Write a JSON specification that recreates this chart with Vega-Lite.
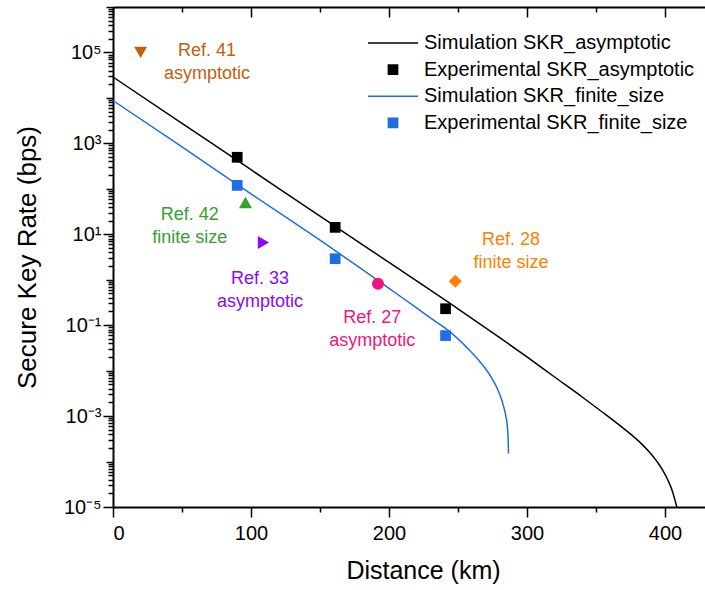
{
  "$schema": "https://vega.github.io/schema/vega-lite/v6.json",
  "autosize": "none",
  "padding": {"left": 113, "top": 7, "right": 0, "bottom": 83},
  "width": 592,
  "height": 500,
  "datasets": {
    "sim": [
      {"series": "Simulation SKR_asymptotic", "d": 0, "skr": 28840},
      {"series": "Simulation SKR_asymptotic", "d": 50, "skr": 2754},
      {"series": "Simulation SKR_asymptotic", "d": 100, "skr": 263},
      {"series": "Simulation SKR_asymptotic", "d": 150, "skr": 25.1},
      {"series": "Simulation SKR_asymptotic", "d": 200, "skr": 2.40},
      {"series": "Simulation SKR_asymptotic", "d": 250, "skr": 0.229},
      {"series": "Simulation SKR_asymptotic", "d": 280, "skr": 0.0537},
      {"series": "Simulation SKR_asymptotic", "d": 300, "skr": 0.0200},
      {"series": "Simulation SKR_asymptotic", "d": 320, "skr": 0.00724},
      {"series": "Simulation SKR_asymptotic", "d": 340, "skr": 0.00263},
      {"series": "Simulation SKR_asymptotic", "d": 355, "skr": 0.00120},
      {"series": "Simulation SKR_asymptotic", "d": 367, "skr": 0.000630},
      {"series": "Simulation SKR_asymptotic", "d": 376, "skr": 0.000380},
      {"series": "Simulation SKR_asymptotic", "d": 383, "skr": 0.000245},
      {"series": "Simulation SKR_asymptotic", "d": 389, "skr": 0.000158},
      {"series": "Simulation SKR_asymptotic", "d": 394, "skr": 0.000102},
      {"series": "Simulation SKR_asymptotic", "d": 398, "skr": 0.0000676},
      {"series": "Simulation SKR_asymptotic", "d": 402, "skr": 0.0000398},
      {"series": "Simulation SKR_asymptotic", "d": 405, "skr": 0.0000240},
      {"series": "Simulation SKR_asymptotic", "d": 407, "skr": 0.0000151},
      {"series": "Simulation SKR_asymptotic", "d": 408.6, "skr": 0.00001},
      {"series": "Simulation SKR_finite_size", "d": 0, "skr": 8770},
      {"series": "Simulation SKR_finite_size", "d": 50, "skr": 832},
      {"series": "Simulation SKR_finite_size", "d": 100, "skr": 77.6},
      {"series": "Simulation SKR_finite_size", "d": 150, "skr": 7.41},
      {"series": "Simulation SKR_finite_size", "d": 180, "skr": 1.74},
      {"series": "Simulation SKR_finite_size", "d": 200, "skr": 0.646},
      {"series": "Simulation SKR_finite_size", "d": 220, "skr": 0.240},
      {"series": "Simulation SKR_finite_size", "d": 230, "skr": 0.145},
      {"series": "Simulation SKR_finite_size", "d": 240, "skr": 0.0891},
      {"series": "Simulation SKR_finite_size", "d": 250, "skr": 0.0501},
      {"series": "Simulation SKR_finite_size", "d": 258, "skr": 0.0288},
      {"series": "Simulation SKR_finite_size", "d": 265, "skr": 0.0170},
      {"series": "Simulation SKR_finite_size", "d": 270, "skr": 0.0110},
      {"series": "Simulation SKR_finite_size", "d": 274, "skr": 0.00724},
      {"series": "Simulation SKR_finite_size", "d": 277.5, "skr": 0.00468},
      {"series": "Simulation SKR_finite_size", "d": 280.5, "skr": 0.00288},
      {"series": "Simulation SKR_finite_size", "d": 283, "skr": 0.00166},
      {"series": "Simulation SKR_finite_size", "d": 284.8, "skr": 0.000955},
      {"series": "Simulation SKR_finite_size", "d": 285.9, "skr": 0.000537},
      {"series": "Simulation SKR_finite_size", "d": 286.4, "skr": 0.000282},
      {"series": "Simulation SKR_finite_size", "d": 286.6, "skr": 0.000151}
    ],
    "exp": [
      {"series": "Experimental SKR_asymptotic", "d": 90, "skr": 494},
      {"series": "Experimental SKR_asymptotic", "d": 161, "skr": 14.2},
      {"series": "Experimental SKR_asymptotic", "d": 241, "skr": 0.23},
      {"series": "Experimental SKR_finite_size", "d": 90, "skr": 119},
      {"series": "Experimental SKR_finite_size", "d": 161, "skr": 2.9},
      {"series": "Experimental SKR_finite_size", "d": 241, "skr": 0.059}
    ],
    "refs": [
      {"ref": "Ref. 41", "d": 20, "skr": 100000},
      {"ref": "Ref. 42", "d": 96, "skr": 50},
      {"ref": "Ref. 33", "d": 109, "skr": 6.6},
      {"ref": "Ref. 27", "d": 192, "skr": 0.82},
      {"ref": "Ref. 28", "d": 248, "skr": 0.92}
    ],
    "labels": [
      {"ref": "Ref. 41", "txt": "Ref. 41\nasymptotic", "d": 68.1, "skr": 59300},
      {"ref": "Ref. 42", "txt": "Ref. 42\nfinite size", "d": 55.6, "skr": 14.9},
      {"ref": "Ref. 33", "txt": "Ref. 33\nasymptotic", "d": 106.5, "skr": 0.581},
      {"ref": "Ref. 27", "txt": "Ref. 27\nasymptotic", "d": 187.9, "skr": 0.0793},
      {"ref": "Ref. 28", "txt": "Ref. 28\nfinite size", "d": 288.4, "skr": 4.2}
    ]
  },
  "layer": [
    {
      "data": {"name": "sim"},
      "mark": {"type": "line", "strokeWidth": 1.5, "interpolate": "monotone"},
      "encoding": {
        "x": {"field": "d", "type": "quantitative", "scale": {"domain": [0, 429], "nice": false, "zero": false},
          "axis": {"orient": "bottom", "values": [0, 100, 200, 300, 400], "tickSize": 10, "labelPadding": 6, "title": "Distance (km)", "titleX": 310, "titlePadding": 15}},
        "y": {"field": "skr", "type": "quantitative", "scale": {"type": "log", "domain": [0.00001, 1000000], "nice": false},
          "axis": {"orient": "left", "values": [0.00001, 0.001, 0.1, 10, 1000, 100000], "tickSize": 10, "labelPadding": 2, "title": "Secure Key Rate (bps)", "titleFontSize": 26, "titlePadding": 23,
            "labelExpr": "datum.value < 0.0001 ? '10⁻⁵' : datum.value < 0.01 ? '10⁻³' : datum.value < 1 ? '10⁻¹' : datum.value < 100 ? '10¹' : datum.value < 10000 ? '10³' : '10⁵'"}},
        "stroke": {"field": "series", "type": "nominal", "legend": null,
          "scale": {"domain": ["Simulation SKR_asymptotic", "Simulation SKR_finite_size"], "range": ["#000000", "#216DE3"]}}
      }
    },
    {
      "data": {"name": "exp"},
      "mark": {"type": "point", "filled": true, "opacity": 1},
      "encoding": {
        "x": {"field": "d", "type": "quantitative",
          "axis": {"orient": "bottom", "values": [50, 150, 250, 350], "tickSize": 5, "labels": false, "domain": false, "title": null}},
        "y": {"field": "skr", "type": "quantitative",
          "axis": {"orient": "left", "values": [0.0001, 0.01, 1, 100, 10000, 1000000], "tickSize": 7, "labels": false, "domain": false, "title": null}},
        "color": {"field": "series", "type": "nominal",
          "scale": {"domain": ["Simulation SKR_asymptotic", "Experimental SKR_asymptotic", "Simulation SKR_finite_size", "Experimental SKR_finite_size"], "range": ["#000000", "#000000", "#216DE3", "#216DE3"]},
          "legend": {"title": null, "orient": "none", "legendX": 254, "legendY": 26, "padding": 0,
            "labelFont": "Liberation Sans", "labelFontSize": 20, "labelColor": "#000000", "labelLimit": 500,
            "labelOffset": 5, "rowPadding": 6.6, "clipHeight": 20,
            "encode": {"symbols": {
              "size": {"value": {"expr": "indexof(datum.value, 'Simulation') == 0 ? 2500 : 78"}}}}}},
        "shape": {"field": "series", "type": "nominal",
          "scale": {"domain": ["Simulation SKR_asymptotic", "Experimental SKR_asymptotic", "Simulation SKR_finite_size", "Experimental SKR_finite_size"], "range": ["M-1,-0.032L1,-0.032L1,0.032L-1,0.032Z", "square", "M-1,-0.032L1,-0.032L1,0.032L-1,0.032Z", "square"]},
          "legend": {"title": null}},
        "size": {"field": "series", "type": "nominal",
          "scale": {"type": "ordinal", "domain": ["Simulation SKR_asymptotic", "Experimental SKR_asymptotic", "Simulation SKR_finite_size", "Experimental SKR_finite_size"], "range": [2500, 115, 2500, 115]},
          "legend": {"title": null}}
      }
    },
    {
      "data": {"name": "refs"},
      "transform": [{"filter": "datum.ref == 'Ref. 41'"}],
      "mark": {"type": "point", "filled": true, "opacity": 1, "shape": "triangle-down", "color": "#C0600E", "size": 169},
      "encoding": {
        "x": {"field": "d", "type": "quantitative",
          "axis": {"orient": "top", "values": [0, 100, 200, 300, 400], "tickSize": -10, "labels": false, "domain": true, "title": null}},
        "y": {"field": "skr", "type": "quantitative",
          "axis": {"orient": "left", "values": [0.00002,0.00003,0.00004,0.00005,0.00006,0.00007,0.00008,0.00009,0.0002,0.0003,0.0004,0.0005,0.0006,0.0007,0.0008,0.0009,0.002,0.003,0.004,0.005,0.006,0.007,0.008,0.009,0.02,0.03,0.04,0.05,0.06,0.07,0.08,0.09,0.2,0.3,0.4,0.5,0.6,0.7,0.8,0.9,2,3,4,5,6,7,8,9,20,30,40,50,60,70,80,90,200,300,400,500,600,700,800,900,2000,3000,4000,5000,6000,7000,8000,9000,20000,30000,40000,50000,60000,70000,80000,90000,200000,300000,400000,500000,600000,700000,800000,900000], "tickSize": 5, "labels": false, "domain": false, "title": null}}
      }
    },
    {
      "data": {"name": "refs"},
      "transform": [{"filter": "datum.ref == 'Ref. 42'"}],
      "mark": {"type": "point", "filled": true, "opacity": 1, "shape": "triangle-up", "color": "#36A030", "size": 169},
      "encoding": {
        "x": {"field": "d", "type": "quantitative",
          "axis": {"orient": "top", "values": [50, 150, 250, 350], "tickSize": -5, "labels": false, "domain": false, "title": null}},
        "y": {"field": "skr", "type": "quantitative", "axis": null}
      }
    },
    {
      "data": {"name": "refs"},
      "transform": [{"filter": "datum.ref == 'Ref. 33'"}],
      "mark": {"type": "point", "filled": true, "opacity": 1, "shape": "triangle-right", "color": "#8A0AF5", "size": 169},
      "encoding": {
        "x": {"field": "d", "type": "quantitative", "axis": null},
        "y": {"field": "skr", "type": "quantitative", "axis": null}
      }
    },
    {
      "data": {"name": "refs"},
      "transform": [{"filter": "datum.ref == 'Ref. 27'"}],
      "mark": {"type": "point", "filled": true, "opacity": 1, "shape": "circle", "color": "#F0147E", "size": 144},
      "encoding": {
        "x": {"field": "d", "type": "quantitative", "axis": null},
        "y": {"field": "skr", "type": "quantitative", "axis": null}
      }
    },
    {
      "data": {"name": "refs"},
      "transform": [{"filter": "datum.ref == 'Ref. 28'"}],
      "mark": {"type": "point", "filled": true, "opacity": 1, "shape": "diamond", "color": "#FF8000", "size": 169},
      "encoding": {
        "x": {"field": "d", "type": "quantitative", "axis": null},
        "y": {"field": "skr", "type": "quantitative", "axis": null}
      }
    },
    {
      "data": {"name": "labels"},
      "mark": {"type": "text", "lineBreak": "\n", "lineHeight": 23.3, "fontSize": 18, "font": "Liberation Sans", "align": "center", "baseline": "middle", "dy": -11.6},
      "encoding": {
        "x": {"field": "d", "type": "quantitative", "axis": null},
        "y": {"field": "skr", "type": "quantitative", "axis": null},
        "text": {"field": "txt", "type": "nominal"},
        "fill": {"field": "ref", "type": "nominal", "legend": null,
          "scale": {"domain": ["Ref. 41", "Ref. 42", "Ref. 33", "Ref. 27", "Ref. 28"], "range": ["#C0600E", "#36A030", "#8A0AF5", "#F0147E", "#FF8000"]}}
      }
    }
  ],
  "resolve": {"axis": {"x": "independent", "y": "independent"}},
  "config": {
    "view": {"stroke": null},
    "font": "Liberation Sans",
    "axis": {
      "grid": false,
      "labelFont": "Liberation Sans", "labelFontSize": 20, "labelColor": "#000000",
      "titleFont": "Liberation Sans", "titleFontSize": 25, "titleFontWeight": "normal", "titleColor": "#000000",
      "domainColor": "#000000", "domainWidth": 2, "tickColor": "#000000", "tickWidth": 1.5
    }
  }
}
